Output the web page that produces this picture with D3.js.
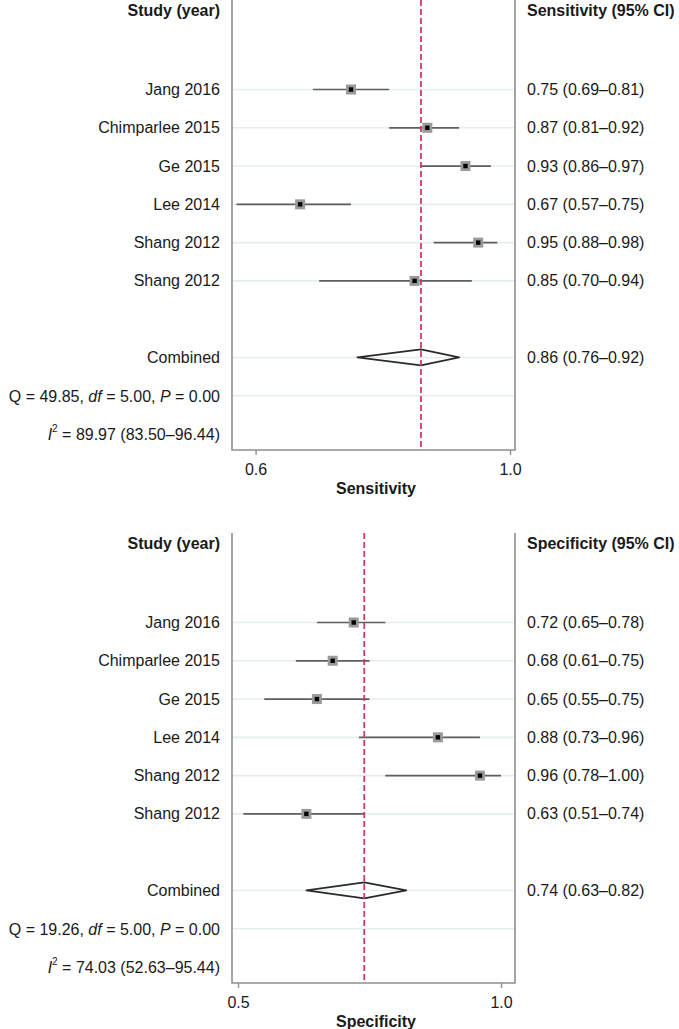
<!DOCTYPE html>
<html>
<head>
<meta charset="utf-8">
<script src="https://cdn.jsdelivr.net/npm/d3@7/dist/d3.min.js"></script>
<style>
  html, body { margin: 0; padding: 0; background: #fff; }
  svg { display: block; font-family: "Liberation Sans", Arial, Helvetica, sans-serif; }
</style>
</head>
<body>
<svg id="chart" width="679" height="1029"></svg>
<script>
// ---------- data ----------
const studies = ["Jang 2016", "Chimparlee 2015", "Ge 2015", "Lee 2014", "Shang 2012", "Shang 2012"];

const sensEst = [0.75, 0.87, 0.93, 0.67, 0.95, 0.85];
const sensLo  = [0.69, 0.81, 0.86, 0.57, 0.88, 0.70];
const sensHi  = [0.81, 0.92, 0.97, 0.75, 0.98, 0.94];
const sensPooled = [0.86, 0.76, 0.92];      // estimate, lower, upper
const sensQ = ["49.85", "5.00", "0.00"];    // Q, df, P
const sensI2 = "89.97 (83.50–96.44)";
const sensTicks = [0.6, 1.0];

const specEst = [0.72, 0.68, 0.65, 0.88, 0.96, 0.63];
const specLo  = [0.65, 0.61, 0.55, 0.73, 0.78, 0.51];
const specHi  = [0.78, 0.75, 0.75, 0.96, 1.00, 0.74];
const specPooled = [0.74, 0.63, 0.82];
const specQ = ["19.26", "5.00", "0.00"];
const specI2 = "74.03 (52.63–95.44)";
const specTicks = [0.5, 1.0];

const panels = [
  { top: 0, measure: "Sensitivity", est: sensEst, lo: sensLo, hi: sensHi, pooled: sensPooled,
    q: sensQ, i2: sensI2, ticks: sensTicks, domain: [0.6, 1.0], range: [255.6, 510] },
  { top: 533, measure: "Specificity", est: specEst, lo: specLo, hi: specHi, pooled: specPooled,
    q: specQ, i2: specI2, ticks: specTicks, domain: [0.5, 1.0], range: [238, 501] }
];

// ---------- layout ----------
const svg = d3.select("#chart");
const frameL = 232, frameR = 515;
const labelX = 220, valueX = 527;
const fmt = d3.format(".2f");
const FS = 16;
const textColor = "#1a1a1a";
const frameColor = "#8f8f8f";

panels.forEach(p => {
  const g = svg.append("g");
  const frameTop = p.top;
  const frameBottom = p.top + 450;
  const x = d3.scaleLinear().domain(p.domain).range(p.range);
  // row index: 0..5 studies, 7 combined, 8 Q, 9 I2
  const y = d3.scaleLinear().domain([0, 9]).range([p.top + 89.5, p.top + 434]);

  // gridlines
  const gridRows = [0, 1, 2, 3, 4, 5, 7, 8];
  g.selectAll("line.grid").data(gridRows).enter().append("line")
    .attr("x1", frameL).attr("x2", frameR)
    .attr("y1", d => y(d)).attr("y2", d => y(d))
    .attr("stroke", "#e6eded").attr("stroke-width", 1.6);

  // frame
  g.append("path")
    .attr("d", `M${frameL},${frameTop}V${frameBottom}H${frameR}V${frameTop}`)
    .attr("fill", "none").attr("stroke", frameColor).attr("stroke-width", 1.6);

  // axis
  const axis = d3.axisBottom(x).tickValues(p.ticks).tickFormat(d3.format(".1f")).tickSize(5).tickPadding(9);
  const ax = g.append("g").attr("transform", `translate(0,${frameBottom})`).call(axis);
  ax.select(".domain").remove();
  ax.selectAll(".tick line").attr("stroke", frameColor).attr("stroke-width", 1.4);
  ax.selectAll(".tick text").attr("font-size", FS).attr("fill", textColor)
    .attr("font-family", "'Liberation Sans', Arial, sans-serif");

  // axis title
  g.append("text").attr("x", 376).attr("y", frameBottom + 38)
    .attr("text-anchor", "middle").attr("dominant-baseline", "central")
    .attr("font-size", FS).attr("font-weight", "bold").attr("fill", textColor)
    .text(p.measure);

  // headers
  g.append("text").attr("x", labelX).attr("y", p.top + 10)
    .attr("text-anchor", "end").attr("dominant-baseline", "central")
    .attr("font-size", FS).attr("font-weight", "bold").attr("fill", textColor)
    .text("Study (year)");
  g.append("text").attr("x", valueX).attr("y", p.top + 10)
    .attr("dominant-baseline", "central")
    .attr("font-size", FS).attr("font-weight", "bold").attr("fill", textColor)
    .text(`${p.measure} (95% CI)`);

  const rows = studies.map((s, i) => ({ name: s, est: p.est[i], lo: p.lo[i], hi: p.hi[i], i }));

  // study labels
  g.selectAll("text.study").data(rows).enter().append("text")
    .attr("x", labelX).attr("y", d => y(d.i))
    .attr("text-anchor", "end").attr("dominant-baseline", "central")
    .attr("font-size", FS).attr("fill", textColor)
    .text(d => d.name);

  // values
  g.selectAll("text.val").data(rows).enter().append("text")
    .attr("x", valueX).attr("y", d => y(d.i))
    .attr("dominant-baseline", "central")
    .attr("font-size", FS).attr("fill", textColor)
    .text(d => `${fmt(d.est)} (${fmt(d.lo)}–${fmt(d.hi)})`);

  // CI lines
  g.selectAll("line.ci").data(rows).enter().append("line")
    .attr("x1", d => x(d.lo)).attr("x2", d => x(d.hi))
    .attr("y1", d => y(d.i)).attr("y2", d => y(d.i))
    .attr("stroke", "#5f5f5f").attr("stroke-width", 1.7);

  // markers
  g.selectAll("rect.box").data(rows).enter().append("rect")
    .attr("x", d => x(d.est) - 5).attr("y", d => y(d.i) - 5)
    .attr("width", 10).attr("height", 10)
    .attr("fill", "#9a9a9a");
  g.selectAll("rect.dot").data(rows).enter().append("rect")
    .attr("x", d => x(d.est) - 2.2).attr("y", d => y(d.i) - 2.2)
    .attr("width", 4.4).attr("height", 4.4)
    .attr("fill", "#000");

  // combined
  const cy = y(7);
  g.append("text").attr("x", labelX).attr("y", cy)
    .attr("text-anchor", "end").attr("dominant-baseline", "central")
    .attr("font-size", FS).attr("fill", textColor).text("Combined");
  g.append("text").attr("x", valueX).attr("y", cy)
    .attr("dominant-baseline", "central")
    .attr("font-size", FS).attr("fill", textColor)
    .text(`${fmt(p.pooled[0])} (${fmt(p.pooled[1])}–${fmt(p.pooled[2])})`);
  g.append("path")
    .attr("d", `M${x(p.pooled[1])},${cy}L${x(p.pooled[0])},${cy - 8}L${x(p.pooled[2])},${cy}L${x(p.pooled[0])},${cy + 8}Z`)
    .attr("fill", "none").attr("stroke", "#2a2a2a").attr("stroke-width", 1.7)
    .attr("stroke-linejoin", "round");

  // heterogeneity
  const qt = g.append("text").attr("x", labelX).attr("y", y(8))
    .attr("text-anchor", "end").attr("dominant-baseline", "central")
    .attr("font-size", FS).attr("fill", textColor);
  qt.append("tspan").text(`Q = ${p.q[0]}, `);
  qt.append("tspan").attr("font-style", "italic").text("df");
  qt.append("tspan").text(` = ${p.q[1]}, `);
  qt.append("tspan").attr("font-style", "italic").text("P");
  qt.append("tspan").text(` = ${p.q[2]}`);

  const it = g.append("text").attr("x", labelX).attr("y", y(9))
    .attr("text-anchor", "end").attr("dominant-baseline", "central")
    .attr("font-size", FS).attr("fill", textColor);
  it.append("tspan").attr("font-style", "italic").text("I");
  it.append("tspan").attr("font-size", 10).attr("dy", -6).text("2");
  it.append("tspan").attr("dy", 6).text(` = ${p.i2}`);

  // pooled reference line
  g.append("line")
    .attr("x1", x(p.pooled[0])).attr("x2", x(p.pooled[0]))
    .attr("y1", frameTop).attr("y2", frameBottom)
    .attr("stroke", "#d4386b").attr("stroke-width", 1.8)
    .attr("stroke-dasharray", "6,3");
});
</script>
</body>
</html>
